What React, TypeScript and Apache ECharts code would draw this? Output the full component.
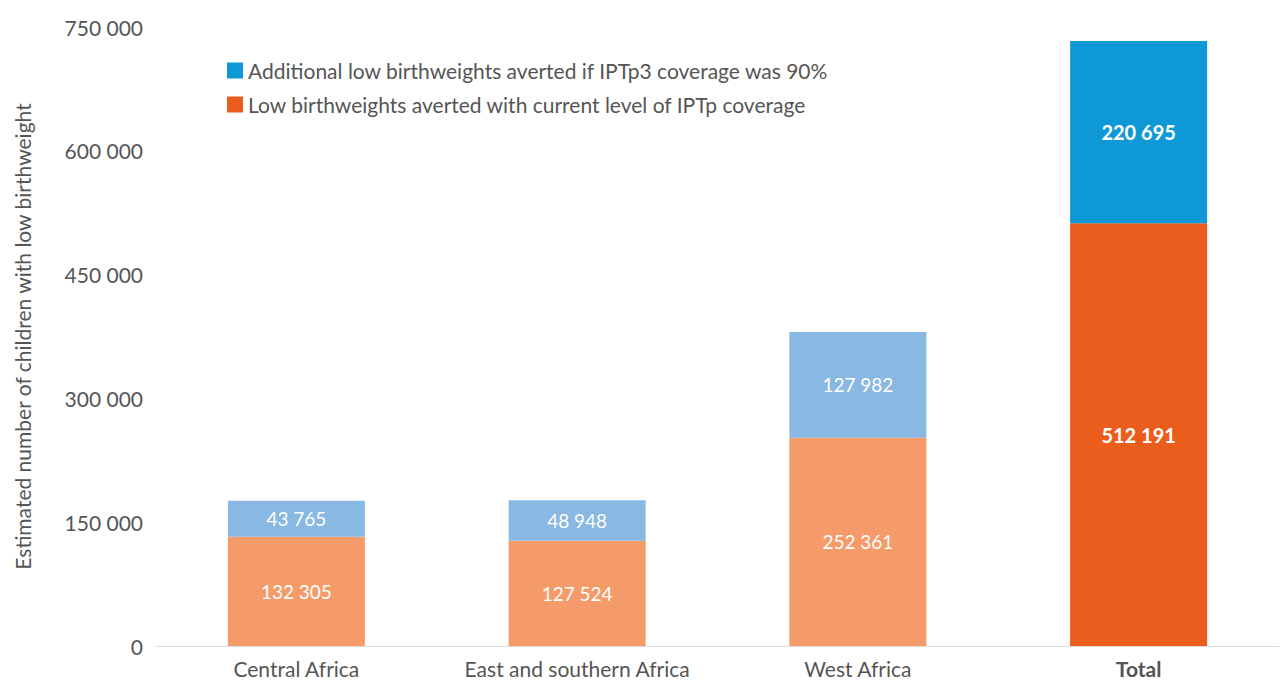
import React, { useEffect, useRef } from "react";
import * as echarts from "echarts";

const categories = ["Central Africa", "East and southern Africa", "West Africa", "Total"];
const currentAverted = [132305, 127524, 252361, 512191];
const additionalAverted = [43765, 48948, 127982, 220695];
const seriesNames = [
  "Low birthweights averted with current level of IPTp coverage",
  "Additional low birthweights averted if IPTp3 coverage was 90%",
];
const yAxisTitle = "Estimated number of children with low birthweight";

const fmt = (v: number) => String(Math.round(v)).replace(/\B(?=(\d{3})+(?!\d))/g, " ");

const FONT = "Lato";

export default function App() {
  const ref = useRef<HTMLDivElement>(null);
  useEffect(() => {
    if (!ref.current) return;
    const chart = echarts.init(ref.current, undefined, { renderer: "svg" });
    const lastIdx = categories.length - 1;
    const mk = (vals: number[], light: string, dark: string) =>
      vals.map((v, i) => ({
        value: v,
        itemStyle: { color: i === lastIdx ? dark : light },
        label: i === lastIdx ? { fontWeight: "bold", fontSize: 20 } : {},
      }));
    chart.setOption({
      animation: false,
      textStyle: { fontFamily: FONT },
      grid: { left: 156, right: 6, top: 27, bottom: 34, containLabel: false, outerBoundsMode: "none" },
      legend: {
        left: 222,
        top: 55,
        orient: "vertical",
        itemGap: 13,
        itemWidth: 16,
        itemHeight: 16,
        icon: "rect",
        data: [
          { name: seriesNames[1], itemStyle: { color: "#0E98D6" } },
          { name: seriesNames[0], itemStyle: { color: "#EB5D1C" } },
        ],
        textStyle: { fontSize: 21, color: "#555", fontFamily: FONT },
      },
      xAxis: {
        type: "category",
        data: categories,
        axisLine: { lineStyle: { color: "#ddd" } },
        axisTick: { show: false },
        axisLabel: {
          interval: 0,
          hideOverlap: false,
          fontSize: 21,
          lineHeight: 21,
          color: "#555",
          margin: 12,
          fontFamily: FONT,
          formatter: (v: string) => (v === "Total" ? "{b|" + v + "}" : v),
          rich: { b: { fontWeight: "bold", fontSize: 21, lineHeight: 21, color: "#555", fontFamily: FONT } },
        },
      },
      yAxis: {
        type: "value",
        min: 0,
        max: 750000,
        interval: 150000,
        splitLine: { show: false },
        axisLine: { show: false },
        axisTick: { show: false },
        axisLabel: { fontSize: 21, color: "#555", margin: 13, fontFamily: FONT, formatter: (v: number) => fmt(v) },
        name: yAxisTitle,
        nameLocation: "middle",
        nameGap: 123,
        nameTextStyle: { fontSize: 21, color: "#555", fontFamily: FONT },
      },
      series: [
        {
          name: seriesNames[0],
          type: "bar",
          stack: "a",
          barWidth: "48.8%",
          itemStyle: { color: "#EB5D1C" },
          data: mk(currentAverted, "#F49B69", "#EB5D1C"),
          label: { show: true, position: "inside", color: "#fff", fontSize: 19, fontFamily: FONT, formatter: (p: any) => fmt(p.value) },
        },
        {
          name: seriesNames[1],
          type: "bar",
          stack: "a",
          barWidth: "48.8%",
          itemStyle: { color: "#0E98D6" },
          data: mk(additionalAverted, "#89B8E3", "#0E98D6"),
          label: { show: true, position: "inside", color: "#fff", fontSize: 19, fontFamily: FONT, formatter: (p: any) => fmt(p.value) },
        },
      ],
    });
    return () => chart.dispose();
  }, []);
  return <div ref={ref} style={{ width: 1285, height: 680, position: "absolute", left: 0, top: 0 }} />;
}
